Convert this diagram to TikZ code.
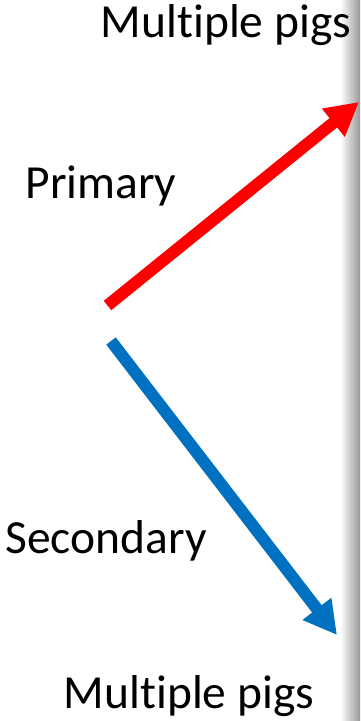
\documentclass[tikz,border=0pt]{standalone}
\usepackage{fontspec}
\setmainfont{Carlito}[Ligatures={NoCommon}]
\usetikzlibrary{arrows.meta}
\definecolor{pred}{RGB}{255,0,0}
\definecolor{pblue}{RGB}{0,112,192}
\tikzset{
  lbl/.style={anchor=base, inner sep=0pt, font=\fontsize{47.5}{52}\selectfont},
  bigarrow/.style={line width=12pt, -{Triangle[length=33pt,width=34pt]}, line cap=butt}
}
\begin{document}
\begin{tikzpicture}[x=1pt,y=-1pt]
\useasboundingbox (0,0) rectangle (360,721);
\shade[left color=white, right color=black!40] (340,0) rectangle (360,721);
\node[lbl] (top) at (226,37) {Multiple pigs};
\node[lbl] (prim) at (101,198) {Primary};
\node[lbl] (sec) at (106,553) {Secondary};
\node[lbl] (bot) at (189,708) {Multiple pigs};
\coordinate (rs) at (107.5,305.5);
\coordinate (re) at (359,102);
\coordinate (bs) at (111,341);
\coordinate (be) at (337,635);
\draw[bigarrow, draw=pred, fill=pred] (rs) -- (re);
\draw[bigarrow, draw=pblue, fill=pblue] (bs) -- (be);
\end{tikzpicture}
\end{document}
